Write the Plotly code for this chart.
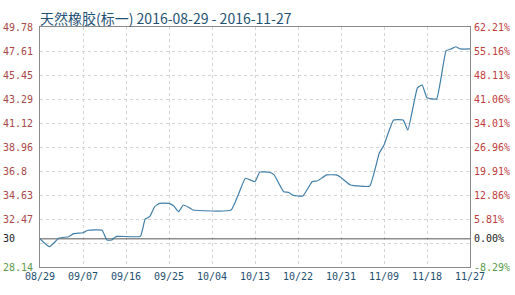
import plotly.graph_objects as go
import pandas as pd

start = "2016-08-29"
day_offsets = [0, 2, 4, 6, 7, 9, 10, 13, 14, 15, 16, 21, 22, 23, 24, 25, 27, 28, 29, 30, 31, 32,
               40, 43, 45, 46, 48, 49, 51, 52, 53, 55, 57, 58, 60, 62, 63, 65, 69, 71, 72,
               74, 76, 77, 79, 80, 81, 83, 85, 86, 87, 88, 90]
prices = [30.68, 29.97, 30.75, 30.87, 31.15, 31.23, 31.45, 31.45, 30.57, 30.57, 30.90, 30.90, 32.45, 32.70,
          33.58, 33.88, 33.88, 33.64, 33.13, 33.73, 33.55, 33.28,
          33.28, 36.14, 35.83, 36.70, 36.68, 36.45, 34.93, 34.87, 34.60, 34.54, 35.85, 35.89, 36.44, 36.44,
          36.20, 35.53, 35.44, 38.40, 39.14,
          41.39, 41.39, 40.49, 44.30, 44.55, 43.40, 43.29, 47.64, 47.80, 48.00, 47.80, 47.80]

base_price = 30.68
y_min, y_max = 28.14, 49.78
grid_vals = [28.14, 30.304, 32.468, 34.632, 36.796, 38.96, 41.124, 43.288, 45.452, 47.616, 49.78]
label_vals = [28.14, 30.68, 32.468, 34.632, 36.796, 38.96, 41.124, 43.288, 45.452, 47.616, 49.78]
left_text = ["28.14", "30", "32.47", "34.63", "36.8", "38.96", "41.12", "43.29", "45.45", "47.61", "49.78"]
right_text = ["-8.29%", "0.00%", "5.81%", "12.86%", "19.91%", "26.96%", "34.01%", "41.06%", "48.11%", "55.16%", "62.21%"]
x_tick_labels = ["08/29", "09/07", "09/16", "09/25", "10/04", "10/13", "10/22", "10/31", "11/09", "11/18", "11/27"]

dates = [d.strftime("%Y-%m-%d") for d in pd.to_datetime(start) + pd.to_timedelta(day_offsets, unit="D")]
x_ticks = [d.strftime("%Y-%m-%d") for d in pd.date_range(start, "2016-11-27", freq="9D")]

left_col = "#a84848"
right_col = "#c03c3c"
green = "#5a9a4a"

def colored(texts, main, pad_left=False):
    out = []
    for i, t in enumerate(texts):
        if pad_left:
            t = t + "\u00a0" * (5 - len(t))
        if i == 0:
            out.append(f"<span style='color:{green}'>{t}</span>")
        elif i == 1:
            out.append(f"<span style='color:#222'>{t}</span>")
        else:
            out.append(f"<span style='color:{main}'>{t}</span>")
    return out

fig = go.Figure()
fig.add_trace(go.Scatter(x=[x_ticks[0], x_ticks[-1]], y=[base_price, base_price], mode="lines",
                         line=dict(color="#555555", width=1), hoverinfo="skip", showlegend=False))
fig.add_trace(go.Scatter(x=dates, y=prices, mode="lines",
                         line=dict(color="#3f7fa8", width=1.2, shape="spline", smoothing=0.35),
                         showlegend=False))
fig.add_trace(go.Scatter(x=[x_ticks[0]], y=[base_price], yaxis="y2", mode="markers",
                         marker=dict(opacity=0), hoverinfo="skip", showlegend=False))
fig.add_trace(go.Scatter(x=[x_ticks[0]], y=[base_price], yaxis="y3", mode="markers",
                         marker=dict(opacity=0), hoverinfo="skip", showlegend=False))

tick_font = dict(family="DejaVu Sans Mono", size=10)

fig.update_layout(
    width=515, height=295,
    margin=dict(l=40, r=45, t=27, b=28, autoexpand=False),
    paper_bgcolor="white", plot_bgcolor="white",
    title=dict(text="天然橡胶(标一) 2016-08-29 - 2016-11-27", x=0, xref="paper", xanchor="left",
               y=1, yref="paper", yanchor="bottom", pad=dict(b=3),
               font=dict(family="Noto Sans CJK SC", size=14, color="#1f5275")),
    xaxis=dict(type="date", range=[x_ticks[0], x_ticks[-1]], tickvals=x_ticks, ticktext=x_tick_labels,
               showgrid=True, gridcolor="#d4d4d4", griddash="dot", gridwidth=1, automargin=False,
               showline=True, linecolor="#8a8a8a", mirror=True, ticks="", zeroline=False,
               tickfont=dict(family="DejaVu Sans Mono", size=10, color="#1f4f70")),
    yaxis=dict(range=[y_min, y_max], tickvals=grid_vals, showticklabels=False, automargin=False,
               showgrid=True, gridcolor="#d4d4d4", griddash="dot", gridwidth=1,
               showline=True, linecolor="#8a8a8a", mirror=True, ticks="", zeroline=False),
    yaxis2=dict(range=[y_min, y_max], overlaying="y", side="left", tickvals=label_vals, automargin=False,
                ticktext=colored(left_text, left_col, pad_left=True), showgrid=False, zeroline=False,
                ticks="", tickfont=tick_font, ticklabelstandoff=6),
    yaxis3=dict(range=[y_min, y_max], overlaying="y", side="right", tickvals=label_vals, automargin=False,
                ticktext=colored(right_text, right_col), showgrid=False, zeroline=False,
                ticks="", tickfont=tick_font, ticklabelstandoff=3),
)

fig.write_html("out.html")
